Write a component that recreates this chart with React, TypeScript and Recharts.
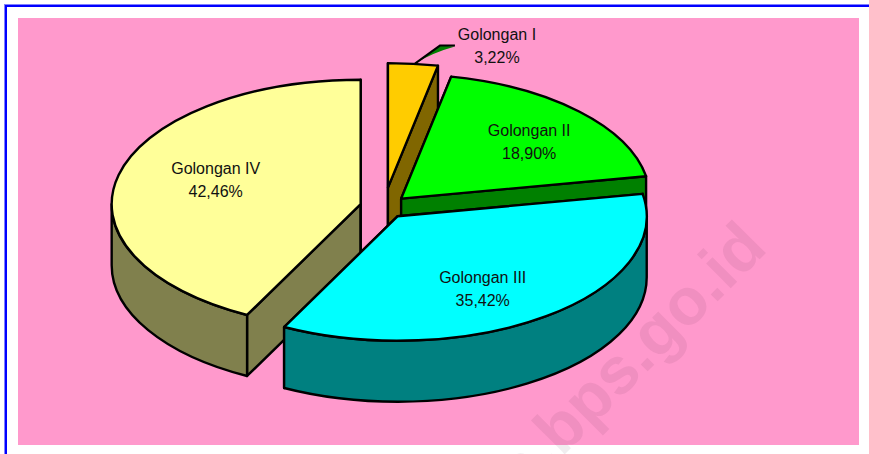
import { PieChart, Pie } from 'recharts'

// Golongan IV comes first so that Golongan III is painted over it, as in the picture
const names = ['Golongan IV', 'Golongan I', 'Golongan II', 'Golongan III']
const shares = [42.46, 3.22, 18.9, 35.42]
const shareLabels = ['42,46%', '3,22%', '18,90%', '35,42%']
const topColors = ['#FFFF99', '#FFCC00', '#00FF00', '#00FFFF']
const wallColors = ['#80804D', '#806600', '#008000', '#008080']

// how far each slice is pulled out of the pie, in px on the tilted plane
const explode = [24, 39, 24, 23]
// label centre relative to the slice tip
const labelShift = [
  [-145, -24],
  [109, -142],
  [128, -57],
  [85, 73],
]

const WIDTH = 869
const HEIGHT = 454
const CX = 384
const CY = 207
const RX = 249
const TILT = 0.5
const DEPTH = 61
// Golongan I has to start at 12 o'clock, so the first slice starts before it
const START = 90 + (shares[0] / 100) * 360

const chartData = names.map((name, i) => ({ name, value: shares[i], fill: topColors[i] }))

// recharts angles run anticlockwise from 3 o'clock, here clockwise from 12 o'clock
const toClock = (deg: number) => 90 - deg

function sliceTip(index: number, midAngle: number, cx: number, cy: number) {
  const t = (toClock(midAngle) * Math.PI) / 180
  return {
    x: cx + explode[index] * Math.sin(t),
    y: cy - explode[index] * TILT * Math.cos(t),
  }
}

function Slice3D(props: any) {
  const { cx, cy, outerRadius, startAngle, endAngle, midAngle, index, fill } = props
  const mid = midAngle ?? (startAngle + endAngle) / 2
  const tip = sliceTip(index, mid, cx, cy)
  const rx = outerRadius
  const ry = outerRadius * TILT
  const turn = toClock(startAngle) < -0.01 ? 360 : 0
  const a = toClock(startAngle) + turn
  const b = toClock(endAngle) + turn
  const rim = (deg: number, drop = 0) => {
    const t = (deg * Math.PI) / 180
    return `${tip.x + rx * Math.sin(t)} ${tip.y - ry * Math.cos(t) + drop}`
  }
  const arc = `${rx} ${ry} 0`
  const cut = (deg: number) =>
    `M${tip.x} ${tip.y}L${rim(deg)}L${rim(deg, DEPTH)}L${tip.x} ${tip.y + DEPTH}Z`
  const wallFrom = Math.max(a, 90)
  const wallTo = Math.min(b, 270)
  const large = b - a > 180 ? 1 : 0
  const line = { stroke: '#000', strokeWidth: 2.4, strokeLinejoin: 'round' as const }
  const wall = wallColors[index]
  return (
    <g>
      <path d={cut(a)} fill={wall} {...line} />
      <path d={cut(b)} fill={wall} {...line} />
      {wallTo > wallFrom && (
        <path
          d={`M${rim(wallFrom)}A${arc} 0 1 ${rim(wallTo)}L${rim(wallTo, DEPTH)}A${arc} 0 0 ${rim(wallFrom, DEPTH)}Z`}
          fill={wall}
          {...line}
        />
      )}
      <path
        d={`M${tip.x} ${tip.y}L${rim(a)}A${arc} ${large} 1 ${rim(b)}Z`}
        fill={fill}
        {...line}
      />
    </g>
  )
}

function SliceLabel(props: any) {
  const { cx, cy, midAngle, index } = props
  const tip = sliceTip(index, midAngle, cx, cy)
  const x = tip.x + labelShift[index][0]
  const y = tip.y + labelShift[index][1]
  return (
    <g fontFamily="'Liberation Sans', Arial, sans-serif" fontSize={16} fill="#111" textAnchor="middle">
      {names[index] === 'Golongan I' && (
        <>
          <path
            d={`M${tip.x + 27} ${tip.y - 124}L${tip.x + 52} ${tip.y - 142}L${tip.x + 67} ${tip.y - 141}Q${tip.x + 45} ${tip.y - 135} ${tip.x + 27} ${tip.y - 124}Z`}
            fill="#008000"
          />
          <path
            d={`M${tip.x + 27} ${tip.y - 124}L${tip.x + 52} ${tip.y - 142}L${tip.x + 67} ${tip.y - 142}`}
            fill="none"
            stroke="#000"
            strokeWidth={2}
          />
        </>
      )}
      <text x={x} y={y - 6}>{names[index]}</text>
      <text x={x} y={y + 17}>{shareLabels[index]}</text>
    </g>
  )
}

export default function App() {
  return (
    <div style={{ position: 'fixed', left: 0, top: 0, width: WIDTH, height: HEIGHT, overflow: 'hidden', background: '#fff' }}>
      <div style={{ position: 'absolute', left: 4, top: 4, width: 900, height: 500, borderLeft: '1px solid #8080FF', borderTop: '1px solid #8080FF' }} />
      <div style={{ position: 'absolute', left: 5, top: 5, width: 900, height: 500, borderLeft: '2px solid #0000FF', borderTop: '2px solid #0000FF' }} />
      <div style={{ position: 'absolute', left: 18, top: 18, width: 841, height: 427, background: '#FF99CC' }} />
      <svg width={WIDTH} height={HEIGHT} style={{ position: 'absolute', left: 0, top: 0 }}>
        <text
          transform="translate(769 250) rotate(-45)"
          textAnchor="end"
          fontFamily="'Liberation Sans', Arial, sans-serif"
          fontWeight="bold"
          fontSize={66}
          fill="rgba(60,30,50,0.08)"
        >
          ta.bps.go.id
        </text>
      </svg>
      <div style={{ position: 'absolute', left: 0, top: 0 }}>
        <PieChart width={WIDTH} height={HEIGHT} margin={{ top: 0, right: 0, bottom: 0, left: 0 }}>
          <Pie
            data={chartData}
            dataKey="value"
            nameKey="name"
            cx={CX}
            cy={CY}
            outerRadius={RX}
            startAngle={START}
            endAngle={START - 360}
            stroke="none"
            shape={Slice3D}
            label={SliceLabel}
            labelLine={false}
            isAnimationActive={false}
          />
        </PieChart>
      </div>
    </div>
  )
}
